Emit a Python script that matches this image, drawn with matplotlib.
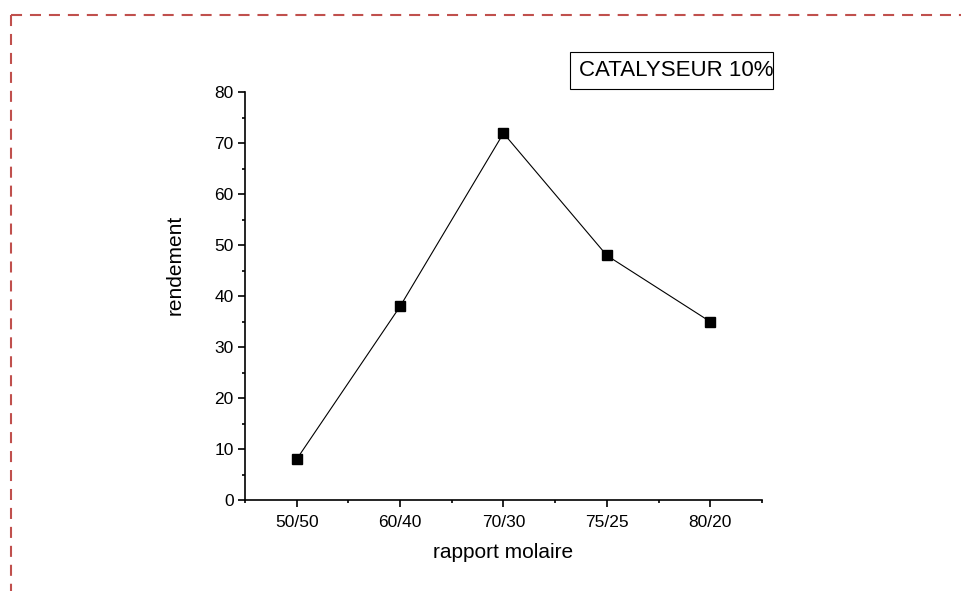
import matplotlib
matplotlib.use('Agg')
import matplotlib.pyplot as plt
from matplotlib.lines import Line2D
from matplotlib.patches import Rectangle
from matplotlib.ticker import MultipleLocator, FixedLocator

# données
categories = ['50/50', '60/40', '70/30', '75/25', '80/20']
rendement = [8, 38, 72, 48, 35]

plt.rcParams['font.family'] = ['Liberation Sans', 'DejaVu Sans']

fig = plt.figure(figsize=(9.61, 5.91), dpi=100)
ax = fig.add_axes([0.2549, 0.154, 0.538, 0.6895])

x = list(range(len(categories)))
ax.plot(x, rendement, color='black', lw=0.8, marker='s', markersize=7,
        markerfacecolor='black', markeredgecolor='black')

ax.set_xlim(-0.5, len(categories) - 0.5)
ax.set_ylim(0, 80)
ax.set_xticks(x)
ax.set_xticklabels(categories)
ax.xaxis.set_minor_locator(FixedLocator([i - 0.5 for i in range(len(categories) + 1)]))
ax.yaxis.set_major_locator(MultipleLocator(10))
ax.yaxis.set_minor_locator(MultipleLocator(5))

for s in ['top', 'right']:
    ax.spines[s].set_visible(False)
for s in ['left', 'bottom']:
    ax.spines[s].set_linewidth(1.2)

ax.tick_params(which='major', direction='out', length=5, width=1.2, labelsize=12.5, pad=3)
ax.tick_params(axis='x', which='major', pad=6)
ax.tick_params(which='minor', direction='out', length=2.5, width=1.2)

ax.set_xlabel('rapport molaire', fontsize=15)
ax.set_ylabel('rendement', fontsize=15)
ax.xaxis.set_label_coords(0.5, -0.105)
ax.yaxis.set_label_coords(-0.116, 0.577)

# encadré de légende
fig.patches.append(Rectangle((570 / 961, 1 - 89 / 591), 203 / 961, 37 / 591,
                             transform=fig.transFigure, fill=False,
                             edgecolor='black', lw=0.8))
fig.text(579 / 961, 1 - 70.5 / 591, 'CATALYSEUR 10%', fontsize=16, va='center', ha='left')

# cadre pointillé de la page
dash = (0, (5.3, 3.8))
fig.add_artist(Line2D([11 / 961, 1], [1 - 14.5 / 591, 1 - 14.5 / 591],
                      transform=fig.transFigure, color='#c0504d', lw=1.5, linestyle=dash))
fig.add_artist(Line2D([11 / 961, 11 / 961], [1 - 14.5 / 591, 0],
                      transform=fig.transFigure, color='#c0504d', lw=1.5, linestyle=dash))

plt.savefig('out.png', dpi=100)
